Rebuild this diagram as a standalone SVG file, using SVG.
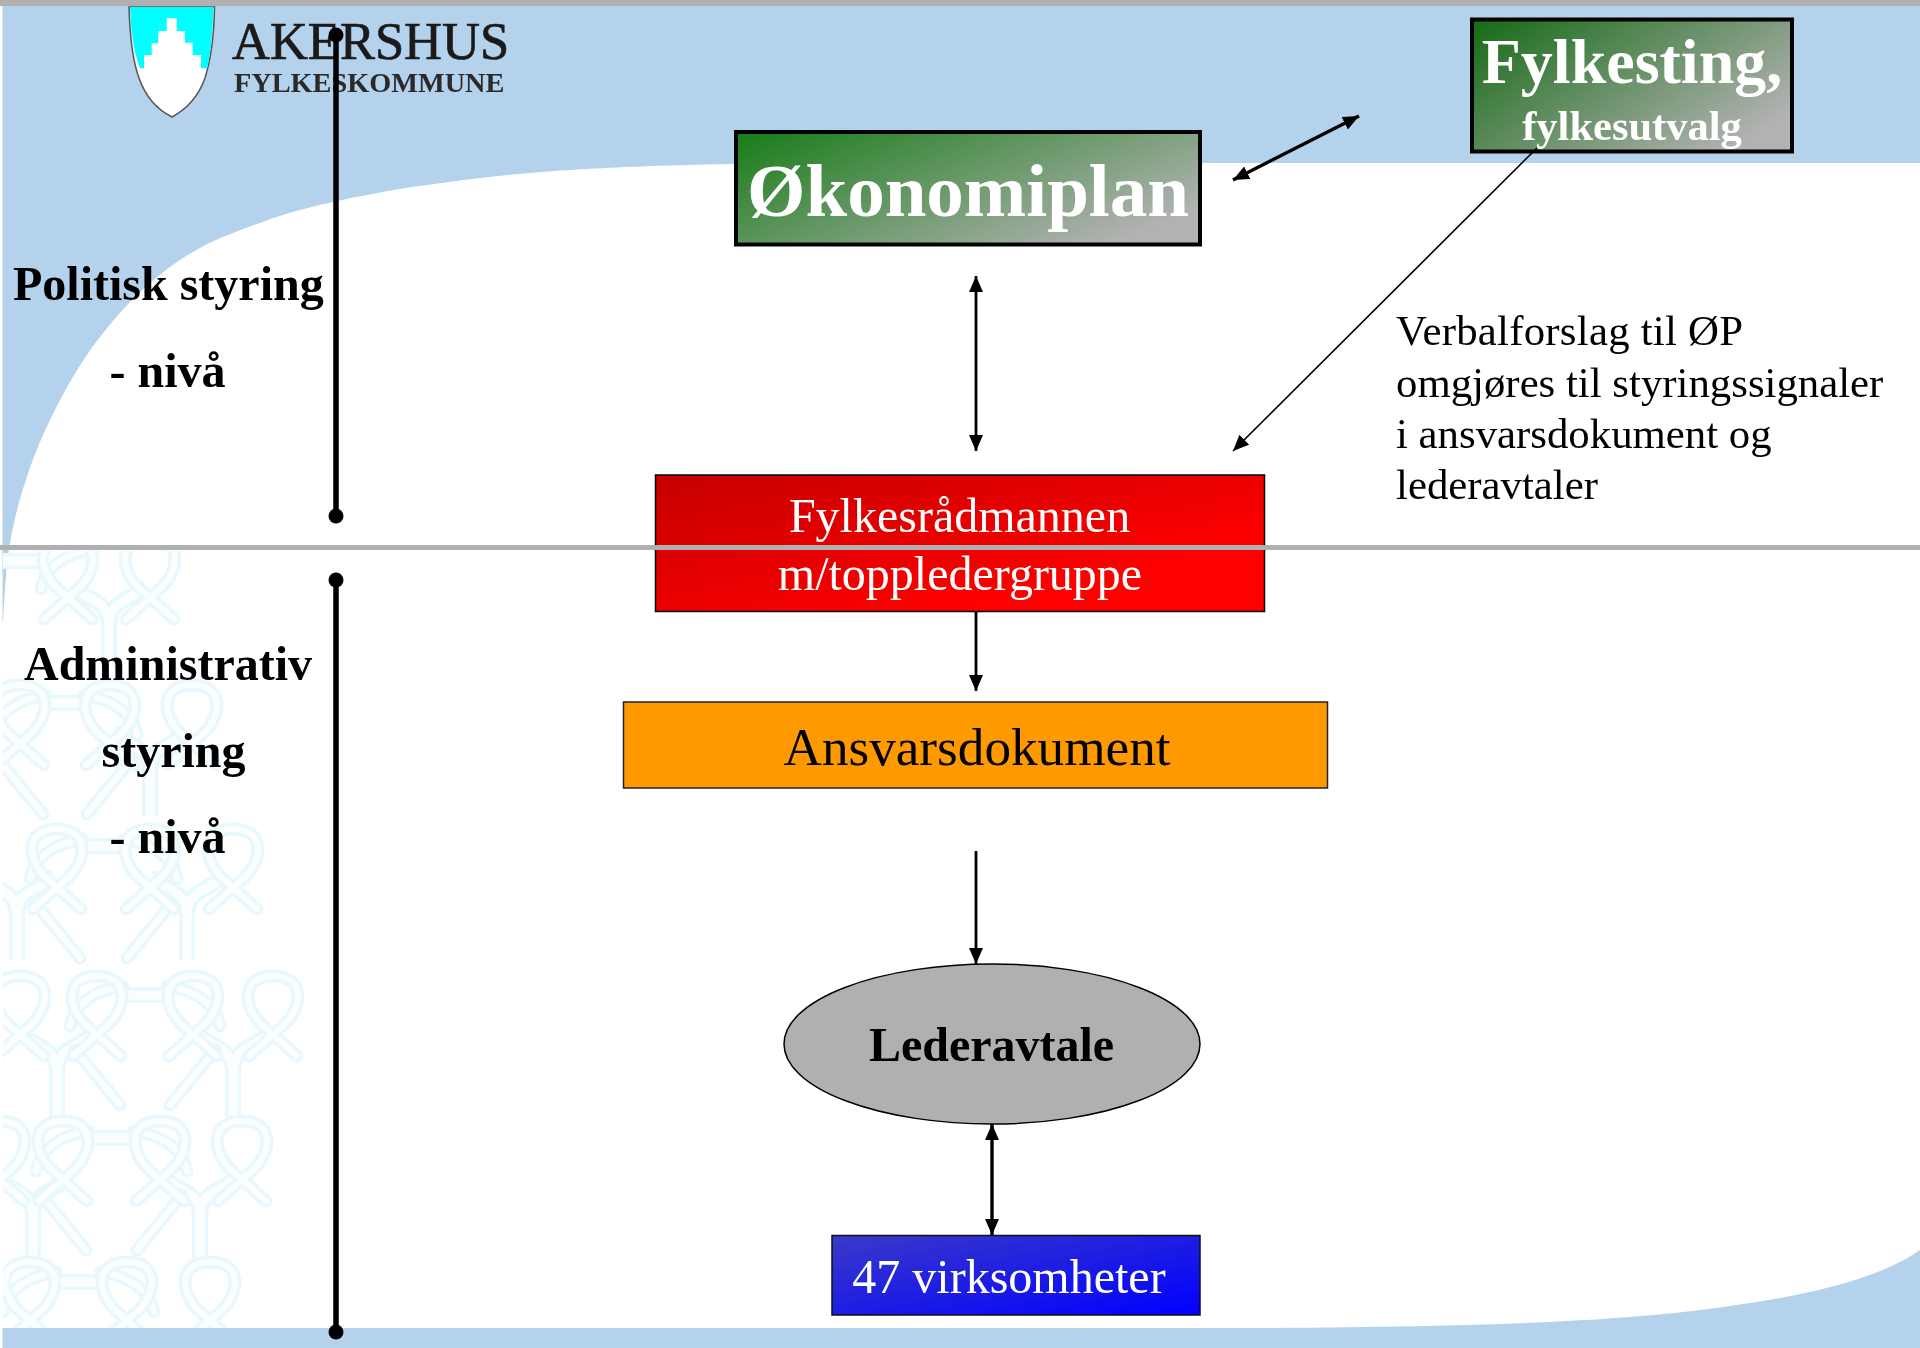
<svg xmlns="http://www.w3.org/2000/svg" width="1920" height="1348" viewBox="0 0 1920 1348">
<style>
text{font-family:"Liberation Serif","Times New Roman",serif}
.b{font-weight:bold}
.m{text-anchor:middle}
.w{fill:#fff}
.k{fill:#000}
.ro{fill:none;stroke:#e8f8fd;stroke-width:13;stroke-linecap:round;stroke-linejoin:round}
.ri{fill:none;stroke:#fbfeff;stroke-width:6;stroke-linecap:round;stroke-linejoin:round}
.lo{fill:none;stroke:#e8f8fd;stroke-width:16}
.li{fill:none;stroke:#fbfeff;stroke-width:9}
.c2{stroke:#000;stroke-width:2.800;fill:none}
.c3{stroke:#000;stroke-width:3.400;fill:none}
.c1{stroke:#000;stroke-width:1.600;fill:none}
.bar{stroke:#000;stroke-width:5.500;fill:none}
.gray{fill:#b0b0b0}
</style>
<defs>
<linearGradient id="gG" x1="0" y1="0" x2="1.170" y2=".720"><stop offset="0" stop-color="#177c17"/><stop offset=".88" stop-color="#b2b2b2"/></linearGradient>
<linearGradient id="gF" x1="0" y1="0" x2="1.170" y2=".720"><stop offset="0" stop-color="#146a14"/><stop offset=".88" stop-color="#b2b2b2"/></linearGradient>
<linearGradient id="gR" x1="0" y1="0" x2="1" y2="1"><stop offset="0" stop-color="#c60000"/><stop offset=".75" stop-color="#ff0000"/></linearGradient>
<linearGradient id="gB" x1="0" y1="0" x2="1" y2="1"><stop offset="0" stop-color="#3a3ac8"/><stop offset="1" stop-color="#0000ff"/></linearGradient>
<marker id="ah" markerUnits="userSpaceOnUse" markerWidth="17" markerHeight="15" refX="16" refY="7" orient="auto-start-reverse"><path d="M0,0L16,7L0,14Z" fill="#000"/></marker>
<filter id="soft" filterUnits="userSpaceOnUse" x="-40" y="500" width="400" height="860"><feGaussianBlur stdDeviation=".6"/></filter>
<path id="pLoop" d="M24,56L-12,24C-30,6 -32,-24 0,-24C32,-24 30,6 12,24L-24,56"/>
<path id="pIn" d="M-27,26C-22,2 0,-10 26,-14"/>
<path id="pIn2" d="M27,26C22,2 0,-10 -26,-14"/>
<path id="pTR" d="M-22,50L23,105"/>
<path id="pTL" d="M22,50L-23,105"/>
<path id="pY" d="M-38,-12C-15,6 0,2 0,30V72M38,-12C15,6 0,2 0,30"/>
<g id="knot"><use href="#pLoop" class="ro"/><use href="#pLoop" class="ri"/></g>
<g id="knotI"><use href="#pIn" class="ro"/><use href="#pIn" class="ri"/><use href="#knot"/></g>
<g id="knotR"><use href="#pIn" class="ro"/><use href="#pIn" class="ri"/><use href="#pTR" class="ro"/><use href="#pTR" class="ri"/><use href="#knot"/></g>
<g id="knotL"><use href="#pIn2" class="ro"/><use href="#pIn2" class="ri"/><use href="#pTL" class="ro"/><use href="#pTL" class="ri"/><use href="#knot"/></g>
<g id="yy"><use href="#pY" class="lo"/><use href="#pY" class="li"/></g>
<clipPath id="bgClip"><rect x="3" y="551" width="400" height="777"/></clipPath>
</defs>

<g id="background">
<rect width="1920" height="1348" fill="#b5d2ec"/>
<path fill="#fff" d="M3,622C5,590 6,565 10,543C14,520 20,497 26,480C40,435 70,375 100,337C140,285 185,250 233,233C262,222 280,215 300,210C350,197 400,188 449,182C520,172 600,165 800,163L1920,163V1250C1870,1285 1780,1300 1700,1310C1620,1320 1500,1327 1250,1328L0,1328V622Z"/>
<rect width="2.500" height="1348" fill="#fff"/>
<g clip-path="url(#bgClip)"><g id="knots" filter="url(#soft)">
<use href="#yy" x="109" y="598"/><use href="#yy" x="17" y="888"/><use href="#yy" x="187" y="888"/><use href="#yy" x="150" y="744"/><use href="#yy" x="57" y="1045"/><use href="#yy" x="233" y="1045"/><use href="#yy" x="33" y="1189"/><use href="#yy" x="200" y="1189"/>
<path class="lo" d="M0,561H47M40,703H90M83,846H122M122,995H168M88,1138H135M57,1282H100"/><path class="li" d="M0,561H47M40,703H90M83,846H122M122,995H168M88,1138H135M57,1282H100"/>
<use href="#knotI" x="68" y="563"/><use href="#knot" x="150" y="563"/>
<use href="#knotR" x="20" y="709"/><use href="#knotL" x="110" y="709"/><use href="#knot" x="192" y="709"/>
<use href="#knotR" x="57" y="853"/><use href="#knotL" x="150" y="853"/><use href="#knot" x="233" y="853"/>
<use href="#knot" x="20" y="1000"/><use href="#knotR" x="97" y="1000"/><use href="#knotL" x="193" y="1000"/><use href="#knot" x="273" y="1000"/>
<use href="#knot" x="0" y="1145"/><use href="#knotR" x="63" y="1145"/><use href="#knotL" x="160" y="1145"/><use href="#knot" x="242" y="1145"/>
<use href="#knotR" x="30" y="1286"/><use href="#knotL" x="127" y="1286"/><use href="#knot" x="210" y="1286"/>
</g></g>
</g>

<g id="logo">
<path d="M129,7H214.500C214,40 210,62 205,78C198,98 185,110 172,117C158,110 146,98 139,78C133,62 130,40 129,7Z" fill="#fff" stroke="#555" stroke-width="1.500"/>
<path d="M130,7H213.500C213,30 211,50 207.300,68.300H201V55H192.700V42.700H185V31H176.700V18.300H166.700V31H158.300V43.300H151.700V55H144V68.300H140C133,50 131,30 130,7Z" fill="#00ffff"/>
<text x="232" y="59" font-size="52.500" fill="#1a1a1a" stroke="#1a1a1a" stroke-width=".7">AKERSHUS</text>
<text x="234" y="92" font-size="28.300" class="b" fill="#2a2a2a">FYLKESKOMMUNE</text>
</g>

<rect class="gray" y="0" width="1920" height="6"/>

<g id="level-labels">
<text x="13" y="300" font-size="48" class="b">Politisk styring</text>
<text x="167.500" y="386.500" font-size="48" class="b m">- nivå</text>
<text x="168" y="680" font-size="48" class="b m">Administrativ</text>
<text x="173.500" y="767" font-size="48" class="b m">styring</text>
<text x="167.500" y="853" font-size="48" class="b m">- nivå</text>
</g>

<g id="node-okonomiplan"><rect x="736" y="132" width="464" height="112.500" fill="url(#gG)" stroke="#000" stroke-width="4"/>
<text x="968" y="215.500" font-size="75" class="b m w">Økonomiplan</text></g>
<g id="node-fylkesting"><rect x="1472" y="19.500" width="320" height="132" fill="url(#gF)" stroke="#000" stroke-width="4"/>
<text x="1632" y="83" font-size="64" class="b m w">Fylkesting,</text>
<text x="1632" y="139.500" font-size="42.500" class="b m w">fylkesutvalg</text></g>
<g id="node-radmann"><rect x="655.500" y="475" width="609" height="136.500" fill="url(#gR)" stroke="#000" stroke-width="1.500"/>
<text x="959.500" y="532" font-size="48" class="m w">Fylkesrådmannen</text>
<text x="960" y="590" font-size="48" class="m w">m/toppledergruppe</text></g>
<g id="node-ansvar"><rect x="623.500" y="702" width="704" height="86" fill="#ff9900" stroke="#222" stroke-width="1.500"/>
<text x="977" y="764.500" font-size="53.200" class="m k">Ansvarsdokument</text></g>
<g id="node-lederavtale"><ellipse cx="992" cy="1044" rx="208" ry="80" fill="#b0b0b0" stroke="#000" stroke-width="1.500"/>
<text x="991.500" y="1061" font-size="48" class="b m k">Lederavtale</text></g>
<g id="node-virksomheter"><rect x="832" y="1235.500" width="368" height="79.500" fill="url(#gB)" stroke="#111" stroke-width="1.500"/>
<text x="1009" y="1293" font-size="48" class="m w">47 virksomheter</text></g>
<g id="note"><text font-size="42.800" class="k"><tspan x="1396" y="345" letter-spacing=".25">Verbalforslag til ØP</tspan><tspan x="1396" y="397">omgjøres til styringssignaler</tspan><tspan x="1396" y="448">i ansvarsdokument og</tspan><tspan x="1396" y="499">lederavtaler</tspan></text></g>

<rect class="gray" y="545" width="1920" height="5"/>

<g id="connectors">
<path class="bar" d="M336,35V516M336,579V1332"/>
<circle cx="336" cy="35" r="7.500"/><circle cx="336" cy="516" r="7.500"/><circle cx="336" cy="580" r="7.500"/><circle cx="336" cy="1332" r="7.500"/>
<line class="c3" x1="1233" y1="180" x2="1359" y2="116" marker-start="url(#ah)" marker-end="url(#ah)"/>
<line class="c2" x1="976" y1="276" x2="976" y2="451" marker-start="url(#ah)" marker-end="url(#ah)"/>
<line class="c1" x1="1537" y1="148" x2="1233" y2="451" marker-end="url(#ah)"/>
<line class="c2" x1="976" y1="612" x2="976" y2="691" marker-end="url(#ah)"/>
<line class="c2" x1="976" y1="851" x2="976" y2="964" marker-end="url(#ah)"/>
<line class="c3" x1="992" y1="1124" x2="992" y2="1235" marker-start="url(#ah)" marker-end="url(#ah)"/>
</g>
</svg>
